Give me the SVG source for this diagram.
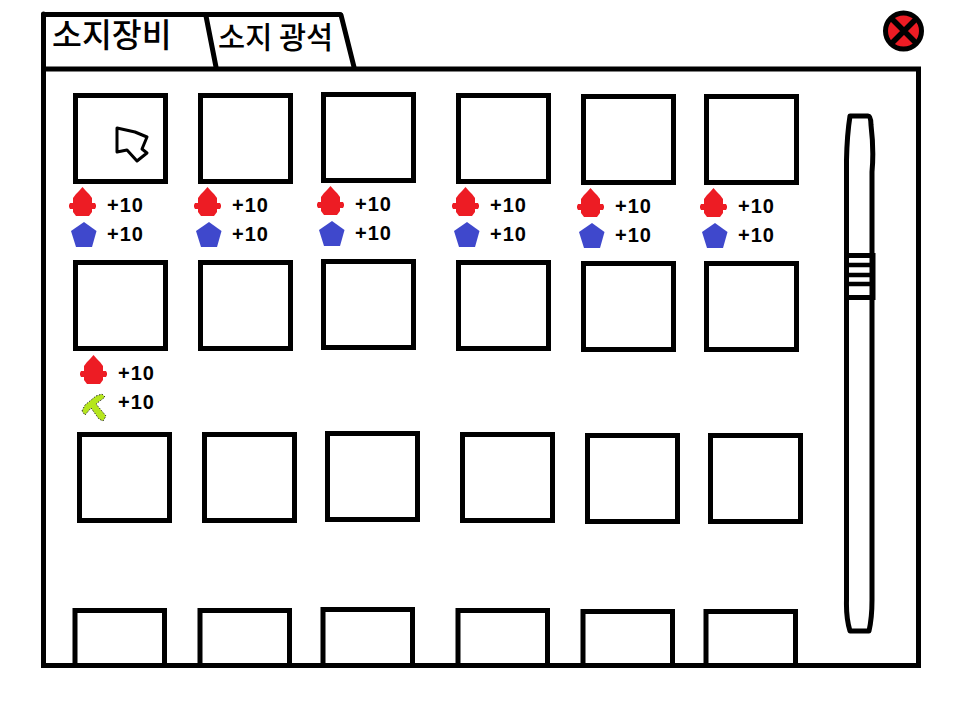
<svg xmlns="http://www.w3.org/2000/svg" xmlns:xlink="http://www.w3.org/1999/xlink" width="958" height="724" viewBox="0 0 958 724">
<style>
.l{fill:none;stroke:#000;stroke-width:5;stroke-linejoin:round;stroke-linecap:round}
.b{fill:#fff;stroke:#000;stroke-width:5}
.o{fill:none;stroke:#000;stroke-width:5}
.s{font-family:"Liberation Sans",Arial,sans-serif;font-size:20px;font-weight:bold;letter-spacing:1px;fill:#000}
.k{font-family:"Noto Sans CJK KR",sans-serif;font-weight:500;fill:#000}
.r{fill:#ed1c24}.u{fill:#3f48cc}.g{fill:#b5e61d;stroke:#333;stroke-width:1;stroke-dasharray:1.5 1.5}
</style>
<defs>
<path id="red" class="r" d="M13.500 1L17 5L20 8L23 12V17H26L27 19V21L26 23H23V26L20 30H7L4 26V23H1L0 21V19L1 17H4V12L7 8L10 5Z"/>
<path id="blue" class="u" d="M13 0L25.500 9L21 25H5L0 9Z"/>
<path id="pick" class="g" d="M0 17L3 11L14 2L20 0L23 3L14 10L24 22L21 27L17 25L9 14L3 21Z"/>
</defs>
<rect width="958" height="724" fill="#fff"/>
<g id="window">
<path class="l" d="M43.500 14V67"/>
<rect class="b" x="43.500" y="69" width="875" height="596.500"/>
</g>
<g id="tab-equipment">
<path class="l" d="M43.500 14.500H340"/>
<path class="l" d="M206 16L216 67"/>
<text class="k" x="52" y="47" font-size="32.500">소지장비</text>
</g>
<g id="tab-ore">
<path class="l" d="M341 15L354 67"/>
<text class="k" x="218" y="48" font-size="29.500">소지 광석</text>
</g>
<g id="close-button">
<circle cx="903.500" cy="31" r="18" fill="#ed1c24" stroke="#000" stroke-width="5"/>
<path class="l" d="M893 20L915 42M915 20L893 42" style="stroke-width:5.500"/>
</g>
<g id="scrollbar">
<path class="l" d="M850 116H868Q871 116 871 125Q874 150 872 172V600Q872 618 869 631H850Q846 618 846.500 600V160Q847 135 850 116Z" style="stroke-width:5"/>
<path class="l" d="M846 255.500H873V297.500H846" style="stroke-linecap:butt;stroke-linejoin:miter"/>
<path class="l" d="M846 265H873M846 275H873M846 284H873" style="stroke-linecap:butt;stroke-width:4.500"/>
</g>
<g id="row-1">
<rect class="b" x="75.500" y="95.500" width="90" height="86"/>
<rect class="b" x="200.500" y="95.500" width="90" height="86"/>
<rect class="b" x="323.500" y="94.500" width="90" height="86"/>
<rect class="b" x="458.500" y="95.500" width="90" height="86"/>
<rect class="b" x="583.500" y="96.500" width="90" height="86"/>
<rect class="b" x="706.500" y="96.500" width="90" height="86"/>
</g>
<g id="cursor">
<path d="M117 128L135 132L147 137L142 149L147 153L137 161L127 150L117 152Z" fill="#fff" stroke="#000" stroke-width="3" stroke-linejoin="round"/>
</g>
<g id="row-2">
<rect class="b" x="75.500" y="262.500" width="90" height="86"/>
<rect class="b" x="200.500" y="262.500" width="90" height="86"/>
<rect class="b" x="323.500" y="261.500" width="90" height="86"/>
<rect class="b" x="458.500" y="262.500" width="90" height="86"/>
<rect class="b" x="583.500" y="263.500" width="90" height="86"/>
<rect class="b" x="706.500" y="263.500" width="90" height="86"/>
</g>
<g id="row-3">
<rect class="b" x="79.500" y="434.500" width="90" height="86"/>
<rect class="b" x="204.500" y="434.500" width="90" height="86"/>
<rect class="b" x="327.500" y="433.500" width="90" height="86"/>
<rect class="b" x="462.500" y="434.500" width="90" height="86"/>
<rect class="b" x="587.500" y="435.500" width="90" height="86"/>
<rect class="b" x="710.500" y="435.500" width="90" height="86"/>
</g>
<g id="row-4">
<path class="o" d="M75 665V610.500H164.500V665"/>
<path class="o" d="M200 665V610.500H289.500V665"/>
<path class="o" d="M323 665V609.500H412.500V665"/>
<path class="o" d="M458 665V610.500H547.500V665"/>
<path class="o" d="M583 665V611.500H672.500V665"/>
<path class="o" d="M706 665V611.500H795.500V665"/>
</g>
<g id="stats">
<use xlink:href="#red" href="#red" x="69" y="186"/><use href="#blue" xlink:href="#blue" x="71" y="222"/>
<text class="s" x="107" y="212">+10</text><text class="s" x="107" y="241">+10</text>
<use xlink:href="#red" href="#red" x="194" y="186"/><use href="#blue" xlink:href="#blue" x="196" y="222"/>
<text class="s" x="232" y="212">+10</text><text class="s" x="232" y="241">+10</text>
<use xlink:href="#red" href="#red" x="317" y="185"/><use href="#blue" xlink:href="#blue" x="319" y="221"/>
<text class="s" x="355" y="211">+10</text><text class="s" x="355" y="240">+10</text>
<use xlink:href="#red" href="#red" x="452" y="186"/><use href="#blue" xlink:href="#blue" x="454" y="222"/>
<text class="s" x="490" y="212">+10</text><text class="s" x="490" y="241">+10</text>
<use xlink:href="#red" href="#red" x="577" y="187"/><use href="#blue" xlink:href="#blue" x="579" y="223"/>
<text class="s" x="615" y="213">+10</text><text class="s" x="615" y="242">+10</text>
<use xlink:href="#red" href="#red" x="700" y="187"/><use href="#blue" xlink:href="#blue" x="702" y="223"/>
<text class="s" x="738" y="213">+10</text><text class="s" x="738" y="242">+10</text>
<use xlink:href="#red" href="#red" x="80" y="354"/><use href="#pick" xlink:href="#pick" x="82" y="394"/>
<text class="s" x="118" y="380">+10</text><text class="s" x="118" y="409">+10</text>
</g>
</svg>
